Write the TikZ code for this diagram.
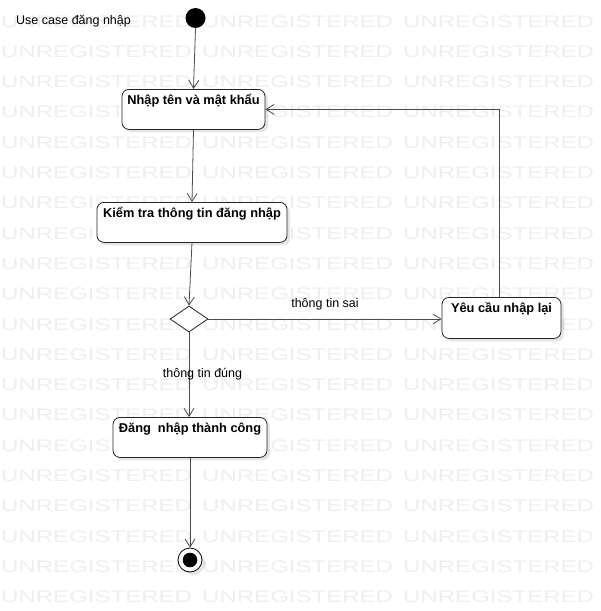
\documentclass[tikz,border=0pt]{standalone}
\usepackage{fontspec}
\setmainfont{Liberation Sans}
\usepackage{tikz}
\usetikzlibrary{shapes.geometric,arrows.meta,shadows,calc,positioning}
\definecolor{wmgray}{RGB}{239,239,239}

\begin{document}
\begin{tikzpicture}[x=1pt,y=-1pt,
	hoatdong/.style={draw=black!85, line width=0.8pt, fill=white, rounded corners=7pt, anchor=north,
		inner sep=0pt, text height=15pt, text depth=25pt,
		font=\bfseries\fontsize{12.8}{14}\selectfont,
		drop shadow={shadow xshift=3pt, shadow yshift=-3pt, opacity=0.10, fill=black}},
	mui/.style={draw=black!70, line width=0.8pt, -{Straight Barb[length=8pt,width=10pt]}},
	nhan/.style={inner sep=0pt, font=\fontsize{12.5}{14}\selectfont},
	watermark/.style={inner sep=0pt, anchor=base west, text=wmgray, font=\fontsize{16.8}{18}\selectfont}]
			\useasboundingbox (0,0) rectangle (601,611);
			\fill[white] (0,0) rectangle (601,611);
			% nen UNREGISTERED
			\foreach \r in {0,...,19}
				\foreach \c in {0,1,2}
					\node[watermark] at ({1+201*\c},{27+30.3*\r}) {\scalebox{1.43}[1]{UNREGISTERED}};
			\node[nhan, anchor=base west] (tieude) at (16,24.5) {Use case đăng nhập};
			\node[circle, fill=black, minimum size=20pt, inner sep=0pt] (batdau) at (195.5,18) {};
			\node[hoatdong, minimum width=143pt] (nhap) at (193.5,89) {Nhập tên và mật khẩu};
			\node[hoatdong, minimum width=190pt] (kiemtra) at (192,202) {Kiểm tra thông tin đăng nhập};
			\node[diamond, draw=black!85, line width=0.8pt, fill=white, minimum width=38pt, minimum height=26pt, inner sep=0pt] (quyetdinh) at (189,319) {};
			\node[hoatdong, minimum width=119pt, minimum height=41pt] (yeucau) at (501.5,297) {Yêu cầu nhập lại};
			\node[hoatdong, minimum width=154pt] (thanhcong) at (190,417) {Đăng\ \ nhập thành công};
			\node[circle, draw=black, line width=0.8pt, fill=white, minimum size=24pt, inner sep=0pt,
				path picture={\fill[black] (path picture bounding box.center) circle (7.3pt);},
				drop shadow={shadow xshift=3pt, shadow yshift=-3pt, opacity=0.10, fill=black}] (ketthuc) at (190,560) {};
			\draw[mui] (batdau.south) -- (nhap.north);
			\draw[mui] (nhap.south) -- (kiemtra.north);
			\draw[mui] (kiemtra.south) -- (quyetdinh.north);
			\draw[mui] (quyetdinh.east) -- (quyetdinh.east -| yeucau.west);
			\draw[mui] (quyetdinh.south) -- (thanhcong.north -| quyetdinh.south);
			\draw[mui] (thanhcong.south) -- (ketthuc.north);
			\draw[mui] ([xshift=-2pt]yeucau.north) |- (nhap.east);
			\node[nhan, anchor=base] (sai) at (325,307.5) {thông tin sai};
			\node[nhan, anchor=base] (dung) at (202.5,377) {thông tin đúng};
			\end{tikzpicture}
\end{document}
